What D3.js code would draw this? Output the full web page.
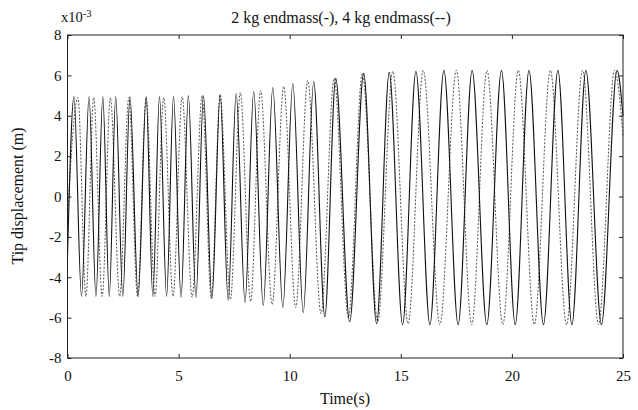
<!DOCTYPE html>
<html><head><meta charset="utf-8">
<script src="https://cdn.jsdelivr.net/npm/d3@7"></script>
<style>body{margin:0;background:#fff}svg{display:block}text{font-family:"Liberation Serif","Times New Roman",serif;fill:#111}</style>
</head><body>
<svg id="c" width="638" height="410"></svg>
<script>
// Tick labels
const xTicks = [0, 5, 10, 15, 20, 25];
const yTicks = [-8, -6, -4, -2, 0, 2, 4, 6, 8];
// Solid series (2 kg endmass): extrema (time s, displacement x1e-3 m)
const solidT = [0, 0.29, 0.63, 0.97, 1.28, 1.59, 1.88, 2.17, 2.49, 2.81, 3.18, 3.54, 3.84, 4.14, 4.46, 4.77, 5.11, 5.44, 5.78, 6.12, 6.50, 6.87, 7.23, 7.59, 7.99, 8.38, 8.81, 9.24, 9.69, 10.14, 10.61, 11.08, 11.58, 12.07, 12.70, 13.33, 13.91, 14.48, 15.08, 15.68, 16.31, 16.94, 17.58, 18.21, 18.87, 19.53, 20.15, 20.77, 21.42, 22.07, 22.70, 23.33, 24.03, 24.73, 25];
const solidV = [-3.0, 4.95, -4.95, 4.95, -4.95, 4.95, -4.95, 4.95, -4.95, 4.95, -4.95, 4.95, -4.95, 4.95, -4.95, 4.95, -5.0, 5.0, -5.0, 5.0, -5.05, 5.05, -5.15, 5.1, -5.25, 5.2, -5.4, 5.4, -5.5, 5.6, -5.75, 5.7, -5.95, 5.85, -6.2, 6.1, -6.3, 6.15, -6.35, 6.2, -6.35, 6.25, -6.35, 6.25, -6.35, 6.25, -6.35, 6.25, -6.35, 6.25, -6.35, 6.25, -6.35, 6.25, 4.0];
// Dashed series (4 kg endmass)
const dashT = [0, 0.47, 0.83, 1.18, 1.56, 1.93, 2.35, 2.76, 3.15, 3.54, 3.94, 4.33, 4.75, 5.16, 5.61, 6.06, 6.47, 6.87, 7.33, 7.78, 8.24, 8.69, 9.21, 9.73, 10.27, 10.81, 11.41, 12.0, 12.64, 13.27, 13.96, 14.64, 15.33, 16.01, 16.76, 17.5, 18.19, 18.88, 19.59, 20.29, 21.01, 21.73, 22.46, 23.18, 23.90, 24.62, 25];
const dashV = [-1.0, 4.9, -4.95, 4.9, -4.95, 4.9, -4.95, 4.9, -4.95, 4.9, -4.95, 4.9, -4.95, 4.95, -5.0, 5.0, -5.05, 5.05, -5.1, 5.15, -5.2, 5.25, -5.35, 5.45, -5.5, 5.75, -5.8, 5.85, -6.0, 6.1, -6.2, 6.2, -6.3, 6.25, -6.35, 6.25, -6.35, 6.25, -6.35, 6.25, -6.35, 6.25, -6.35, 6.25, -6.35, 6.25, 3.0];

const svg = d3.select("#c");
const L = 67.5, R = 623, T = 35, B = 358;
const x = d3.scaleLinear().domain([0, 25]).range([L, R]);
const y = d3.scaleLinear().domain([-8, 8]).range([B, T]);

const line = d3.line().x(d => x(d[0])).y(d => y(d[1])).curve(d3.curveMonotoneX);
const solid = solidT.map((t, i) => [t, solidV[i]]);
const dashed = dashT.map((t, i) => [t, dashV[i]]);

svg.append("path").datum(dashed).attr("d", line).attr("fill", "none")
  .attr("stroke", "#555").attr("stroke-width", 1).attr("stroke-dasharray", "2,1.6");
svg.append("path").datum(solid).attr("d", line).attr("fill", "none")
  .attr("stroke", "#111").attr("stroke-width", 1.1);

// Axes with inward ticks on all sides
const fs = 15;
const gB = svg.append("g").attr("transform", `translate(0,${B})`)
  .call(d3.axisBottom(x).tickValues(xTicks).tickSize(-4).tickPadding(12).tickFormat(d3.format("d")));
const gT = svg.append("g").attr("transform", `translate(0,${T})`)
  .call(d3.axisTop(x).tickValues(xTicks).tickSize(-4).tickFormat(""));
const gL = svg.append("g").attr("transform", `translate(${L},0)`)
  .call(d3.axisLeft(y).tickValues(yTicks).tickSize(-4).tickPadding(6).tickFormat(d3.format("d")));
const gR = svg.append("g").attr("transform", `translate(${R},0)`)
  .call(d3.axisRight(y).tickValues(yTicks).tickSize(-4).tickFormat(""));
[gB, gT, gL, gR].forEach(g => {
  g.selectAll(".domain").remove();
  g.selectAll("line").attr("stroke", "#222");
  g.selectAll("text").attr("font-size", fs).attr("font-family", "Liberation Serif").attr("fill", "#111");
});
gL.selectAll("text").text(d => d < 0 ? "-" + Math.abs(d) : d);
svg.append("rect").attr("x", L).attr("y", T).attr("width", R - L).attr("height", B - T)
  .attr("fill", "none").attr("stroke", "#222").attr("stroke-width", 1);

// Texts
const sci = svg.append("text").attr("x", 61).attr("y", 22).attr("font-size", 14.5);
sci.append("tspan").text("x10");
sci.append("tspan").attr("dy", -5).attr("font-size", 10.5).text("-3");
svg.append("text").attr("x", 341).attr("y", 23).attr("text-anchor", "middle").attr("font-size", 16)
  .text("2 kg endmass(-), 4 kg endmass(--)");
svg.append("text").attr("x", 345).attr("y", 404).attr("text-anchor", "middle").attr("font-size", 16)
  .text("Time(s)");
svg.append("text").attr("transform", "translate(23,196) rotate(-90)").attr("text-anchor", "middle")
  .attr("font-size", 16).text("Tip displacement (m)");
</script>
</body></html>
